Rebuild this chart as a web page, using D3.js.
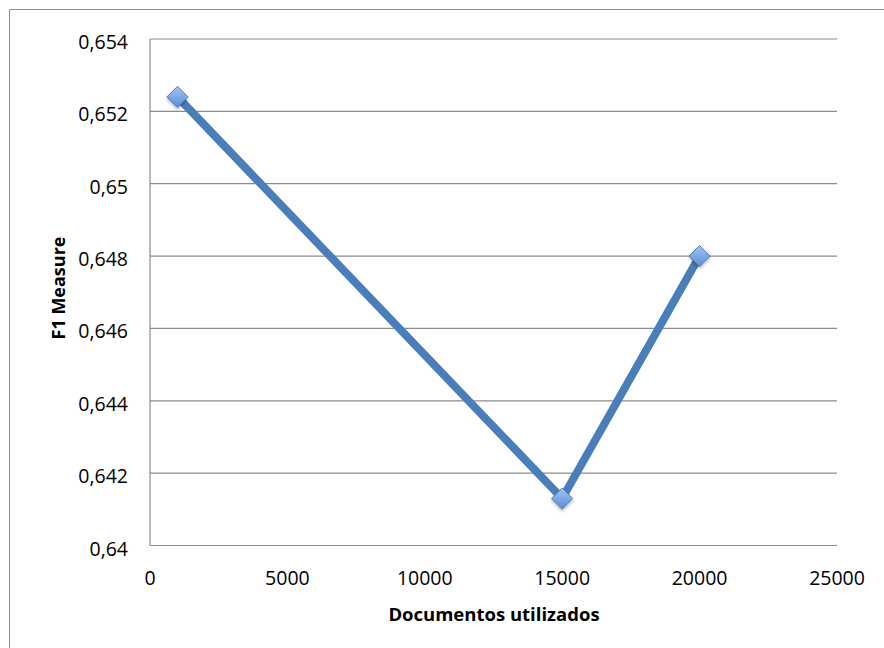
<!DOCTYPE html>
<html>
<head>
<meta charset="utf-8">
<script src="https://cdn.jsdelivr.net/npm/d3@7"></script>
<style>
  body { margin: 0; background: #fff; }
  svg { display: block; }
  text { font-family: "Open Sans", "DejaVu Sans", sans-serif; fill: #000; }
</style>
</head>
<body>
<svg id="chart" width="884" height="648"></svg>
<script>
const docs = [1000, 15000, 20000];
const f1 = [0.6524, 0.6413, 0.6480];
const xTicks = [0, 5000, 10000, 15000, 20000, 25000];
const yTicks = [0.640, 0.642, 0.644, 0.646, 0.648, 0.650, 0.652, 0.654];
const xTitle = "Documentos utilizados";
const yTitle = "F1 Measure";

const svg = d3.select("#chart");
const W = 884, H = 648;
const m = { left: 150, right: 884 - 837, top: 39, bottom: 648 - 545.5 };

const x = d3.scaleLinear().domain([0, 25000]).range([m.left, W - m.right]);
const y = d3.scaleLinear().domain([0.640, 0.654]).range([H - m.bottom, m.top]);

// outer border (top and left visible)
svg.append("path")
  .attr("d", `M9.5,${H} L9.5,9.5 L${W},9.5`)
  .attr("fill", "none").attr("stroke", "#8c8c8c").attr("stroke-width", 1);

const defs = svg.append("defs");
const grad = defs.append("linearGradient").attr("id", "mk").attr("x1", 0).attr("y1", 0).attr("x2", 0).attr("y2", 1);
grad.append("stop").attr("offset", "0%").attr("stop-color", "#a3c3f0");
grad.append("stop").attr("offset", "100%").attr("stop-color", "#5b8ed8");
const shadow = defs.append("filter").attr("id", "sh").attr("x", "-50%").attr("y", "-50%").attr("width", "200%").attr("height", "200%");
shadow.append("feDropShadow").attr("dx", 0).attr("dy", 2).attr("stdDeviation", 1.5).attr("flood-color", "#000").attr("flood-opacity", 0.3);

// gridlines
svg.append("g").selectAll("line").data(yTicks).join("line")
  .attr("x1", x(0)).attr("x2", x(25000))
  .attr("y1", d => y(d)).attr("y2", d => y(d))
  .attr("stroke", "#8c8c8c").attr("stroke-width", 1.2);

// y axis line
svg.append("line")
  .attr("x1", x(0)).attr("x2", x(0))
  .attr("y1", y(0.654)).attr("y2", y(0.640))
  .attr("stroke", "#8c8c8c").attr("stroke-width", 1.2);

// y tick labels
const fmtY = d => d3.format(".3~f")(d).replace(".", ",");
svg.append("g").selectAll("text").data(yTicks).join("text")
  .attr("x", 128).attr("y", d => y(d) + 10)
  .attr("text-anchor", "end")
  .style("font-size", "19.5px")
  .text(fmtY);

// x tick labels
svg.append("g").selectAll("text").data(xTicks).join("text")
  .attr("x", d => x(d)).attr("y", 585)
  .attr("text-anchor", "middle")
  .style("font-size", "19.5px")
  .text(d => d);

// titles
svg.append("text")
  .attr("x", 494).attr("y", 621)
  .attr("text-anchor", "middle")
  .style("font-size", "18.5px").style("font-weight", "bold")
  .text(xTitle);

svg.append("text")
  .attr("transform", "translate(65,288) rotate(-90)")
  .attr("text-anchor", "middle")
  .style("font-size", "18px").style("font-weight", "bold")
  .text(yTitle);

// line
const pts = docs.map((d, i) => [d, f1[i]]);
svg.append("path")
  .datum(pts)
  .attr("fill", "none")
  .attr("stroke", "#4a7ebb")
  .attr("stroke-width", 8)
  .attr("stroke-linejoin", "miter")
  .attr("d", d3.line().x(d => x(d[0])).y(d => y(d[1])));

// markers
svg.append("g").selectAll("path").data(pts).join("path")
  .attr("transform", d => `translate(${x(d[0])},${y(d[1])})`)
  .attr("d", "M0,-10.5 L10.5,0 L0,10.5 L-10.5,0 Z")
  .attr("fill", "url(#mk)")
  .attr("stroke", "#4a7ebb")
  .attr("stroke-width", 1)
  .attr("stroke-linejoin", "round")
  .attr("filter", "url(#sh)");
</script>
</body>
</html>
